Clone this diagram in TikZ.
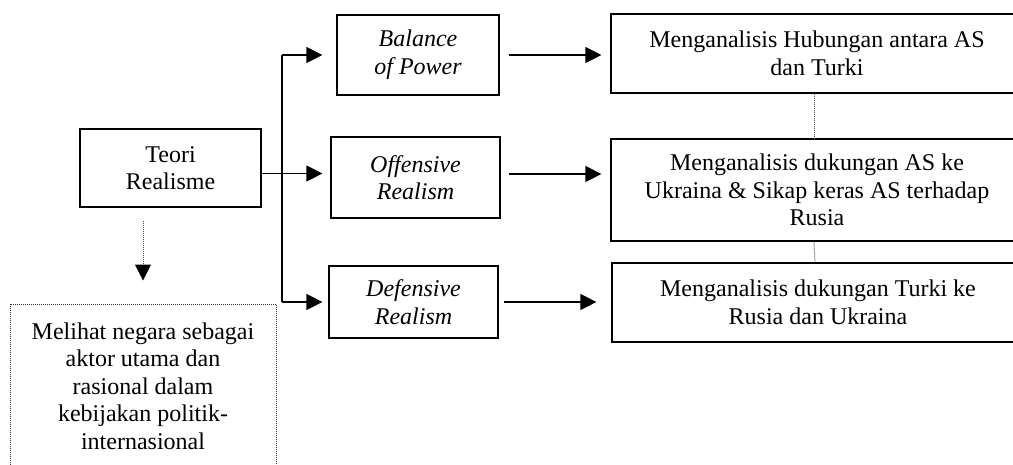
\documentclass[tikz,border=0pt]{standalone}
\usepackage{fontspec}
\setmainfont{Liberation Serif}
\usetikzlibrary{arrows.meta}
\tikzset{
  box/.style={draw=black, line width=1.2pt, inner sep=0pt, align=center, font=\fontsize{24}{27.6}\selectfont},
  ibox/.style={box, font=\fontsize{24}{27.6}\selectfont\itshape},
  dbox/.style={box, draw=black!80, line width=1pt, dash pattern=on 1pt off 1pt},
  arr/.style={line width=1.2pt, -{Triangle[length=16pt,width=16pt]}},
  plain/.style={line width=1.2pt},
  dline/.style={draw=black!70, line width=1pt, dash pattern=on 1pt off 1pt},
}
\begin{document}
\begin{tikzpicture}[x=1pt,y=-1pt]
\useasboundingbox (0,0) rectangle (1013,464);
\clip (0,0) rectangle (1013,464);
% nodes
\node[box, minimum width=181, minimum height=78] (teori) at (170.5,168) {Teori\\Realisme};
\node[ibox, minimum width=162, minimum height=80] (bal) at (418,55) {Balance\\of Power};
\node[ibox, minimum width=169, minimum height=81] (off) at (415.5,177.5) {Offensive\\Realism};
\node[ibox, minimum width=169, minimum height=72] (def) at (413.5,302) {Defensive\\Realism};
\node[box, minimum width=412, minimum height=79] (r1) at (817,53.5) {Menganalisis Hubungan antara AS\\dan Turki};
\node[box, minimum width=412, minimum height=102] (r2) at (817,190) {Menganalisis dukungan AS ke\\Ukraina \& Sikap keras AS terhadap\\Rusia};
\node[box, minimum width=412, minimum height=79] (r3) at (818,302.5) {Menganalisis dukungan Turki ke\\Rusia dan Ukraina};
\node[dbox, minimum width=266, minimum height=164] (mel) at (143,386) {Melihat negara sebagai\\aktor utama dan\\rasional dalam\\kebijakan politik-\\internasional};
% coordinates
\coordinate (t) at (282,173.5);
\coordinate (m) at (0,174);
% branch connectors
\draw[plain] (t |- bal.west) -- (t |- def.west);
\draw[arr, shorten >=14pt] (t |- bal.west) -- (bal.west);
\draw[arr, shorten >=8pt] (teori.east |- t) -- (off.west |- t);
\draw[arr, shorten >=6pt] (t |- def.west) -- (def.west);
% to right boxes
\draw[arr, shorten <=9pt, shorten >=9pt] (bal.east) -- (r1.west |- bal.east);
\draw[arr, shorten <=8pt, shorten >=9pt] (off.east |- m) -- (r2.west |- m);
\draw[arr, shorten <=5pt, shorten >=15pt] (def.east) -- (r3.west |- def.east);
% dotted links
\draw[dline] ([xshift=-3pt]r1.south) -- ([xshift=-3pt]r2.north);
\draw[dline] ([xshift=-3pt]r2.south) -- ([xshift=-3pt]r3.north);
\draw[dline, -{Triangle[length=16pt,width=16pt,color=black,fill=black]}, shorten <=13pt, shorten >=23pt] (teori.south -| mel.north) -- (mel.north);
\end{tikzpicture}
\end{document}
